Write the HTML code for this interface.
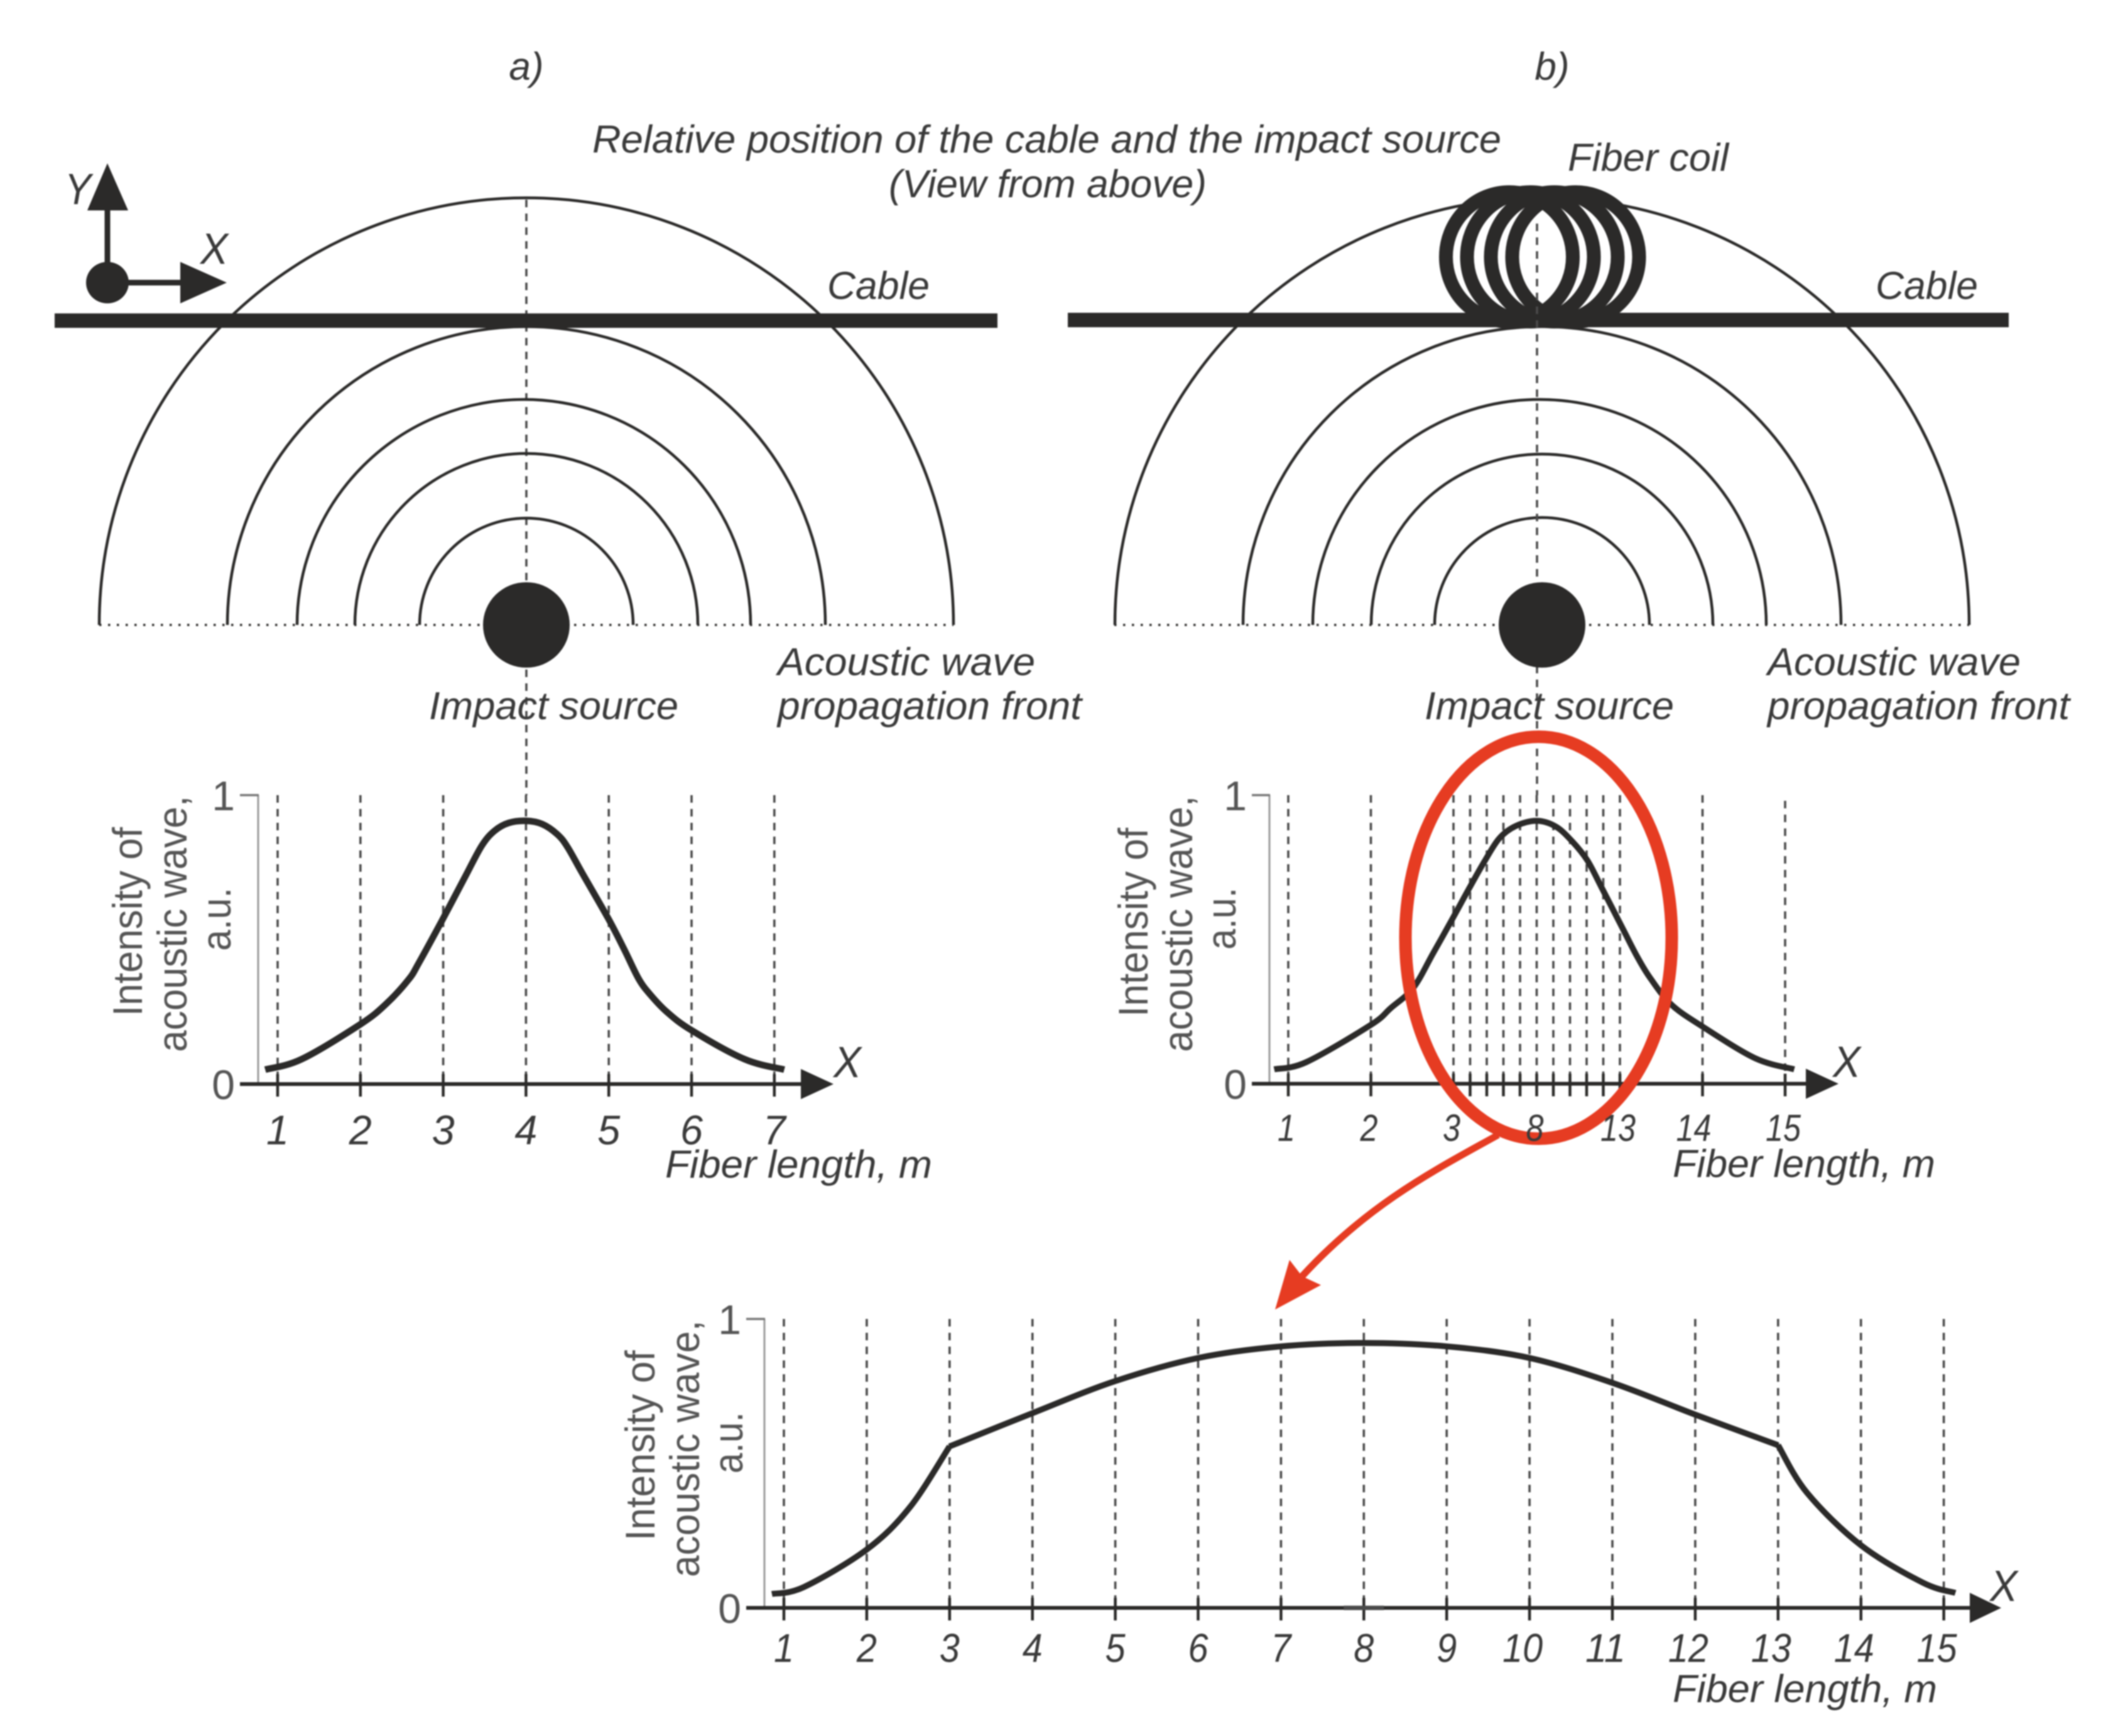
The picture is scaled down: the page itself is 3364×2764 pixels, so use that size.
<!DOCTYPE html>
<html lang="en">
<head>
<meta charset="utf-8">
<title>Acoustic wave intensity along a straight cable and a fiber coil</title>
<style>
html,body{margin:0;padding:0;background:#fff;}
body{width:3364px;height:2764px;overflow:hidden;}
svg{display:block;filter:blur(1px);}
text{font-family:"Liberation Sans",Arial,sans-serif;fill:#3a3a3a;}
.it{font-style:italic;font-size:62px;}
.sym{font-style:italic;font-size:70px;}
.wave{fill:none;stroke:#2b2a29;stroke-width:4.5;}
.dot{fill:none;stroke:#2b2a29;stroke-width:3.5;stroke-dasharray:3.5 10.5;}
.dash{fill:none;stroke:#4a4a4a;stroke-width:3.6;stroke-dasharray:12 10;}
.coil{fill:none;stroke:#2b2a29;stroke-width:22;}
</style>
</head>
<body>
<svg id="fig" xmlns="http://www.w3.org/2000/svg" width="3364" height="2764" viewBox="0 0 3364 2764">
  <rect x="0" y="0" width="3364" height="2764" fill="#fff"/>

  <text class="it" x="838" y="127" text-anchor="middle">a)</text>
  <text class="it" x="2471" y="127" text-anchor="middle">b)</text>
  <text class="it" x="943" y="243" textLength="1447" lengthAdjust="spacingAndGlyphs">Relative position of the cable and the impact source</text>
  <text class="it" x="1415" y="314" textLength="506" lengthAdjust="spacingAndGlyphs">(View from above)</text>

  <!-- Panel a -->
  <g>
    <line class="dash" x1="838" y1="318" x2="838" y2="1266"/>
    <line class="dot" x1="158" y1="995" x2="1518" y2="995"/>
    <path class="wave" d="M668 995A170 170 0 0 1 1008 995"/>
    <path class="wave" d="M565 995A273 273 0 0 1 1111 995"/>
    <path class="wave" d="M473 995A361 359 0 0 1 1195 995"/>
    <path class="wave" d="M362 995A476 475 0 0 1 1314 995"/>
    <path class="wave" d="M158 995A680 680 0 0 1 1518 995"/>
    <rect x="87" y="499" width="1501" height="23" fill="#2b2a29"/>
    <ellipse cx="838" cy="995" rx="69" ry="68" fill="#2b2a29"/>
    <text class="it" x="1317" y="476" textLength="163" lengthAdjust="spacingAndGlyphs">Cable</text>
    <text class="it" x="683" y="1145" textLength="397" lengthAdjust="spacingAndGlyphs">Impact source</text>
    <text class="it" x="1238" y="1075" textLength="410" lengthAdjust="spacingAndGlyphs">Acoustic wave</text>
    <text class="it" x="1238" y="1145" textLength="484" lengthAdjust="spacingAndGlyphs">propagation front</text>
  </g>

  <!-- Coordinate axes icon -->
  <g>
    <line x1="171" y1="450" x2="171" y2="330" stroke="#2b2a29" stroke-width="9"/>
    <polygon points="171,260 204,335 139,335" fill="#2b2a29"/>
    <line x1="171" y1="450" x2="292" y2="450" stroke="#2b2a29" stroke-width="9"/>
    <polygon points="361,450 287,417 287,483" fill="#2b2a29"/>
    <ellipse cx="171" cy="450" rx="34" ry="33" fill="#2b2a29"/>
    <text class="sym" x="124" y="325" text-anchor="middle" textLength="42" lengthAdjust="spacingAndGlyphs">Y</text>
    <text class="sym" x="341" y="420" text-anchor="middle" textLength="44" lengthAdjust="spacingAndGlyphs">X</text>
  </g>

  <!-- Panel b -->
  <g>
    <line class="dot" x1="1774" y1="995" x2="3135" y2="995"/>
    <path class="wave" d="M2284 995A171 171 0 0 1 2626 995"/>
    <path class="wave" d="M2183 995A272 272 0 0 1 2727 995"/>
    <path class="wave" d="M2090 995A361 359 0 0 1 2812 995"/>
    <path class="wave" d="M1979 995A476 475 0 0 1 2931 995"/>
    <path class="wave" d="M1775 995A680 680 0 0 1 3135 995"/>
    <rect x="1700" y="498" width="1498" height="23" fill="#2b2a29"/>
    <g>
      <ellipse class="coil" cx="2403" cy="409" rx="101" ry="103"/>
      <ellipse class="coil" cx="2436.5" cy="409" rx="101" ry="103"/>
      <ellipse class="coil" cx="2474.5" cy="409" rx="101" ry="103"/>
      <ellipse class="coil" cx="2508.5" cy="409" rx="101" ry="103"/>
    </g>
    <line class="dash" x1="2447" y1="356" x2="2447" y2="1266"/>
    <ellipse cx="2455" cy="995" rx="69" ry="68" fill="#2b2a29"/>
    <text class="it" x="2496" y="272" textLength="256" lengthAdjust="spacingAndGlyphs">Fiber coil</text>
    <text class="it" x="2986" y="476" textLength="163" lengthAdjust="spacingAndGlyphs">Cable</text>
    <text class="it" x="2268" y="1145" textLength="397" lengthAdjust="spacingAndGlyphs">Impact source</text>
    <text class="it" x="2814" y="1075" textLength="403" lengthAdjust="spacingAndGlyphs">Acoustic wave</text>
    <text class="it" x="2814" y="1145" textLength="481" lengthAdjust="spacingAndGlyphs">propagation front</text>
  </g>

  <g id="charts"></g>

  <!-- Red highlight -->
  <g>
    <ellipse cx="2449.5" cy="1493" rx="212" ry="320" fill="none" stroke="#e63c22" stroke-width="20"/>
    <path d="M2385 1807C2290 1860 2180 1915 2073 2032" fill="none" stroke="#e63c22" stroke-width="11"/>
    <polygon points="2030,2085 2053,2006 2073,2032 2103,2046" fill="#e63c22"/>
  </g>

  <g id="tick-labels"></g>
</svg>

<script>
// Chart a: single pass of the fiber past the source
const fiberA = [0.85, 1.29, 2, 2.306, 2.58, 2.707, 2.98, 3.26, 3.466, 3.618, 3.792, 4, 4.194, 4.376, 4.498, 4.68, 4.99, 5.18, 5.36, 5.5, 5.7, 6, 6.64, 7.12];
const intensityA = [0.05, 0.086, 0.207, 0.276, 0.361, 0.42, 0.563, 0.715, 0.825, 0.876, 0.904, 0.911, 0.9, 0.865, 0.822, 0.73, 0.575, 0.47, 0.365, 0.31, 0.25, 0.186, 0.086, 0.05];
const tickFibersA = [1, 2, 3, 4, 5, 6, 7];
const labelFibersA = [1, 2, 3, 4, 5, 6, 7];
const tickLabelsA = ["1", "2", "3", "4", "5", "6", "7"];

// Chart b: fiber with coil, measured as-is
const fiberB = [0.83, 1.22, 2, 2.24, 2.513, 2.75, 3, 3.98, 4.85, 5.75, 6.74, 8, 9.15, 10.13, 11.04, 11.9, 13.04, 13.21, 13.365, 13.62, 14, 14.64, 15.11];
const intensityB = [0.05, 0.075, 0.204, 0.262, 0.332, 0.45, 0.578, 0.681, 0.769, 0.85, 0.893, 0.911, 0.891, 0.84, 0.774, 0.68, 0.534, 0.44, 0.367, 0.275, 0.198, 0.088, 0.05];
const tickFibersB = [1, 2, 3, 4, 5, 6, 7, 8, 9, 10, 11, 12, 13, 14, 15];
const labelFibersB = [1, 2, 3, 8, 13, 14, 15];
const tickLabelsB = ["1", "2", "3", "8", "13", "14", "15"];

// Chart c: enlarged coil section
const fiberC = [0.855, 1.24, 2, 2.52, 3, 4, 5, 6, 7, 8, 9, 10, 11, 12, 13, 13.35, 14, 14.75, 15.14];
const intensityC = [0.048, 0.072, 0.202, 0.348, 0.559, 0.674, 0.785, 0.865, 0.905, 0.917, 0.905, 0.865, 0.779, 0.669, 0.563, 0.398, 0.217, 0.087, 0.052];
const tickFibersC = [1, 2, 3, 4, 5, 6, 7, 8, 9, 10, 11, 12, 13, 14, 15];
const labelFibersC = [1, 2, 3, 4, 5, 6, 7, 8, 9, 10, 11, 12, 13, 14, 15];
const tickLabelsC = ["1", "2", "3", "4", "5", "6", "7", "8", "9", "10", "11", "12", "13", "14", "15"];
const cornersC = [3, 13];

const yTickValues = [0, 1];
const yTickLabels = ["0", "1"];
const yTitleLines = ["Intensity of", "acoustic wave,", "a.u."];

const NS = 'http://www.w3.org/2000/svg';
const INK = '#2b2a29';
const root = document.getElementById('charts');
const labelRoot = document.getElementById('tick-labels');

function make(parent, tag, attrs, content) {
  const el = document.createElementNS(NS, tag);
  for (const k in attrs) el.setAttribute(k, attrs[k]);
  if (content !== undefined) el.textContent = content;
  parent.appendChild(el);
  return el;
}

function smoothPath(pts) {
  let d = 'M' + pts[0][0].toFixed(1) + ' ' + pts[0][1].toFixed(1);
  for (let i = 0; i < pts.length - 1; i++) {
    const p0 = pts[Math.max(i - 1, 0)], p1 = pts[i], p2 = pts[i + 1], p3 = pts[Math.min(i + 2, pts.length - 1)];
    const c1x = p1[0] + (p2[0] - p0[0]) / 6, c1y = p1[1] + (p2[1] - p0[1]) / 6;
    const c2x = p2[0] - (p3[0] - p1[0]) / 6, c2y = p2[1] - (p3[1] - p1[1]) / 6;
    d += 'C' + [c1x, c1y, c2x, c2y, p2[0], p2[1]].map(v => v.toFixed(1)).join(' ');
  }
  return d;
}

function drawChart(c) {
  const g = make(root, 'g', {});
  
  
  const y = v => c.y0 - v * (c.y0 - c.y1);

  // y axis
  const yAxis = make(g, 'line', {x1: c.axisX, y1: y(1), x2: c.axisX, y2: y(0), stroke: '#9a9a9a', 'stroke-width': 3});
  
  
  const yTop = make(g, 'line', {x1: c.axisStart, y1: y(1), x2: c.axisX + 1, y2: y(1), stroke: '#777', 'stroke-width': 3.5});
  
  

  // grid and ticks
  c.ticks.forEach(f => {
    const grid = make(g, 'line', {x1: c.x(f), y1: y(1) + (f === c.shortGrid ? 9 : 0), x2: c.x(f), y2: y(0) - 12, class: 'dash'});
    
    
    const tick = make(g, 'line', {x1: c.x(f), y1: y(0) - 16, x2: c.x(f), y2: y(0) + 20, stroke: INK, 'stroke-width': 4.5});
    
    
  });

  // x axis
  const xAxis = make(g, 'line', {x1: c.axisStart, y1: y(0), x2: c.arrowBase + 2, y2: y(0), stroke: INK, 'stroke-width': 6});
  
  
  const head = make(g, 'polygon', {points: c.arrowTip + ',' + y(0) + ' ' + c.arrowBase + ',' + (y(0) - 24) + ' ' + c.arrowBase + ',' + (y(0) + 24), fill: INK});
  
  
  const xSym = make(g, 'text', {x: c.arrowTip + c.symDx, y: y(0) - 11, class: 'sym', 'text-anchor': 'middle', textLength: 44, lengthAdjust: 'spacingAndGlyphs'}, 'X');
  
  

  // axis smudge at the centre of the enlarged chart
  if (c.smudgeAt) {
    const mark = make(g, 'line', {x1: c.x(c.smudgeAt) - 32, y1: y(0), x2: c.x(c.smudgeAt) + 32, y2: y(0), stroke: '#4a4a4a', 'stroke-width': 7});
    
    
  }

  // curve, split at sharp corners
  const runs = [];
  let run = [];
  c.fiber.forEach((f, i) => {
    const p = [c.x(f), y(c.intensity[i])];
    run.push(p);
    if ((c.corners || []).includes(f)) { runs.push(run); run = [p]; }
  });
  runs.push(run);
  const d = runs.map(smoothPath).join('');
  const curve = make(g, 'path', {d: d, fill: 'none', stroke: INK, 'stroke-width': c.curveWidth, 'stroke-linejoin': 'miter'});
  
  

  // x tick labels (above the red highlight)
  c.labelFibers.forEach((f, i) => {
    const s = c.labels[i];
    const t = make(labelRoot, 'text', {x: c.x(f) + c.labelShift(f), y: y(0) + c.labelDrop, 'font-size': c.labelSize, 'font-style': 'italic', 'text-anchor': 'middle', textLength: s.length * c.digit, lengthAdjust: 'spacingAndGlyphs'}, s);
    
    
  });

  // y tick labels
  yTickValues.forEach((v, i) => {
    const t = make(g, 'text', {x: c.axisStart - 8, y: y(v) + 24, 'font-size': 66, 'text-anchor': 'end', style: 'fill:#555'}, yTickLabels[i]);
    
    
  });

  // x title
  const xt = make(g, 'text', {x: c.xTitle[0], y: c.xTitle[1], class: 'it', textLength: c.xTitle[2], lengthAdjust: 'spacingAndGlyphs'}, 'Fiber length, m');
  
  

  // y title
  yTitleLines.forEach((line, i) => {
    const [bx, bottom, len] = c.yTitle[i];
    const t = make(g, 'text', {transform: 'translate(' + bx + ' ' + bottom + ') rotate(-90)', 'font-size': 66, textLength: len, lengthAdjust: 'spacingAndGlyphs', style: 'fill:#555'}, line);
    
    
  });
  return g;
}

drawChart({
  name: 'chart-a',
  x: f => 442 + (f - 1) * 131.8,
  y0: 1726, y1: 1266, axisX: 411, axisStart: 382, arrowBase: 1275, arrowTip: 1327, symDx: 22,
  fiber: fiberA, intensity: intensityA, ticks: tickFibersA, labelFibers: labelFibersA, labels: tickLabelsA,
  labelShift: f => 0,
  curveWidth: 10.5, labelDrop: 96, digit: 36, labelSize: 66,
  xTitle: [1059, 1875, 425],
  yTitle: [[226, 1618, 301], [297, 1675, 408], [367, 1514, 101]]
});

drawChart({
  name: 'chart-b',
  x: f => f <= 3 ? 2051 + (f - 1) * 131.5 : f <= 13 ? 2314 + (f - 3) * 26.5 : 2579 + (f - 13) * 131.5,
  y0: 1725.5, y1: 1266, axisX: 2021, axisStart: 1993, arrowBase: 2875, arrowTip: 2927, symDx: 13,
  fiber: fiberB, intensity: intensityB, ticks: tickFibersB, labelFibers: labelFibersB, labels: tickLabelsB, shortGrid: 15,
  labelShift: f => f === 14 ? -14 : -3,
  curveWidth: 9.5, labelDrop: 91, digit: 28, labelSize: 60,
  xTitle: [2663, 1874, 418],
  yTitle: [[1827, 1619, 301], [1898, 1675, 408], [1967, 1512, 99]]
});

drawChart({
  name: 'chart-c',
  x: f => 1248 + (f - 1) * 131.9,
  y0: 2560, y1: 2100, axisX: 1217, axisStart: 1188, arrowBase: 3136, arrowTip: 3186, symDx: 4,
  fiber: fiberC, intensity: intensityC, ticks: tickFibersC, labelFibers: labelFibersC, labels: tickLabelsC, corners: cornersC, smudgeAt: 8,
  labelShift: f => f >= 10 ? -11 : 0,
  curveWidth: 9.5, labelDrop: 86, digit: 32, labelSize: 64,
  xTitle: [2663, 2710, 421],
  yTitle: [[1042, 2453, 303], [1113, 2511, 409], [1182, 2346, 98]]
});
</script>
</body>
</html>
